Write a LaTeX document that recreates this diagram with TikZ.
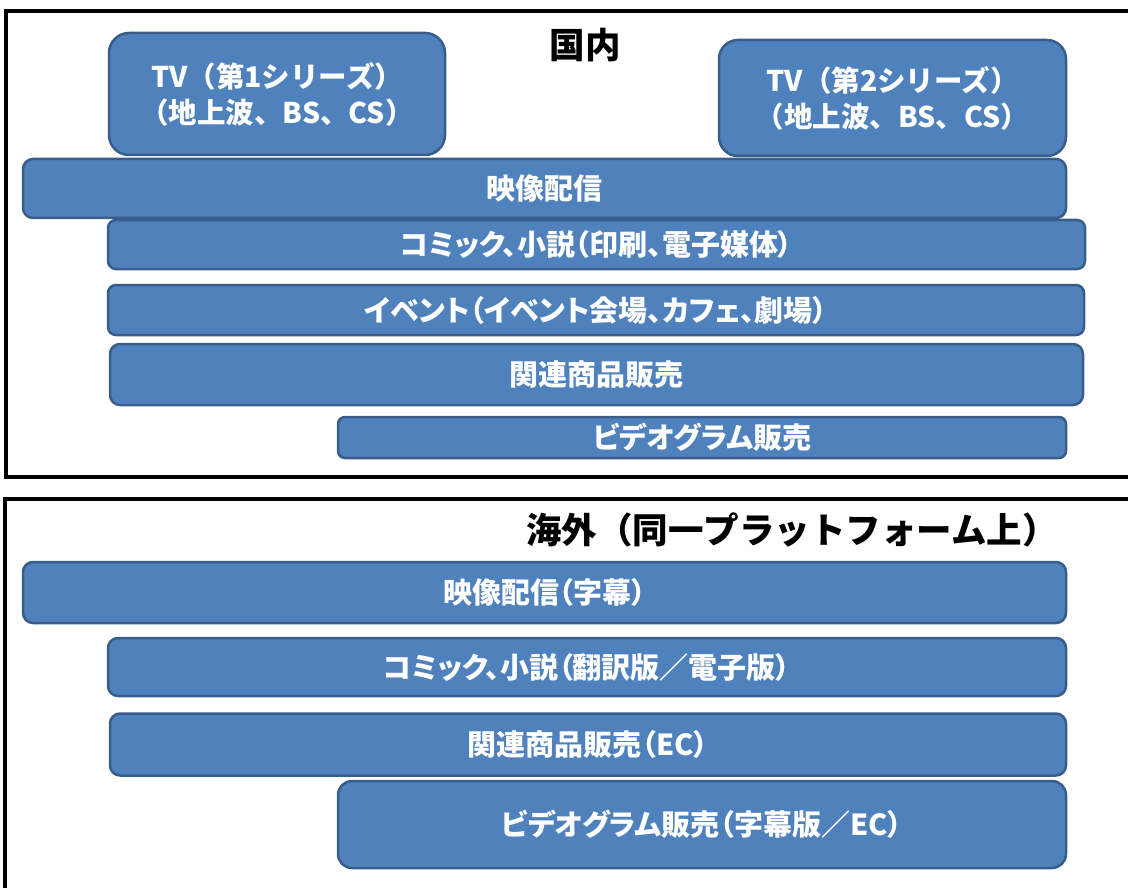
\documentclass[tikz,border=0pt]{standalone}
\usepackage{fontspec}
\newfontfamily\jp{Noto Sans CJK JP}[RawFeature=+palt]
\newfontfamily\jpfull{Noto Sans CJK JP}
\definecolor{boxfill}{HTML}{4F81BD}
\definecolor{boxline}{HTML}{385D8A}
\begin{document}
\begin{tikzpicture}[x=1pt,y=-1pt,
  bar/.style={draw=boxline, line width=2.5pt, fill=boxfill, text=white,
    font=\jp\bfseries\fontsize{29}{36}\selectfont, inner sep=0pt, outer sep=0pt,
    align=center},
  tvbox/.style={bar, font=\jpfull\bfseries\fontsize{28.5}{36}\selectfont},
  frame/.style={draw=black, line width=3.5pt},
  title/.style={font=\jpfull\bfseries\fontsize{35.5}{40}\selectfont, text=black, inner sep=0pt}]
\useasboundingbox (0,0) rectangle (1128,888);
\clip (0,0) rectangle (1128,888);
% frames
\draw[frame] (6,11) rectangle (1150,477);
\draw[frame] (5,499) rectangle (1150,910);
% titles
\node[title] (dom) at (585,45) {国内};
\node[title] (ovs) at (792,530) {海外（同一プラットフォーム上）};
% domestic boxes
\node[tvbox, rounded corners=20pt, minimum width=336pt, minimum height=122pt] (tv1) at (277,94) {TV（第1シリーズ）\\（地上波、BS、CS）};
\node[tvbox, rounded corners=19pt, minimum width=347pt, minimum height=116pt] (tv2) at (892.5,98) {TV（第2シリーズ）\\（地上波、BS、CS）};
\node[bar, rounded corners=10pt, minimum width=1043pt, minimum height=59pt] (hai) at (544.5,188.5) {映像配信};
\node[bar, rounded corners=8pt, minimum width=977pt, minimum height=49pt] (com) at (596.5,244.5) {コミック、小説（印刷、電子媒体）};
\node[bar, rounded corners=8pt, minimum width=976pt, minimum height=50pt] (evt) at (596,310) {イベント（イベント会場、カフェ、劇場）};
\node[bar, rounded corners=10pt, minimum width=973pt, minimum height=61pt] (kan) at (596.5,374.5) {関連商品販売};
\node[bar, rounded corners=7pt, minimum width=728pt, minimum height=41pt] (vid) at (702,437.5) {ビデオグラム販売};
% overseas boxes
\node[bar, rounded corners=10pt, minimum width=1043pt, minimum height=61pt] (hai2) at (544.5,592.5) {映像配信（字幕）};
\node[bar, rounded corners=10pt, minimum width=958pt, minimum height=58pt] (com2) at (587,667) {コミック、小説（翻訳版／電子版）};
\node[bar, rounded corners=10pt, minimum width=956pt, minimum height=62pt] (kan2) at (588,744.5) {関連商品販売（EC）};
\node[bar, rounded corners=14pt, minimum width=728pt, minimum height=87pt] (vid2) at (702,824.5) {ビデオグラム販売（字幕版／EC）};
\end{tikzpicture}
\end{document}
